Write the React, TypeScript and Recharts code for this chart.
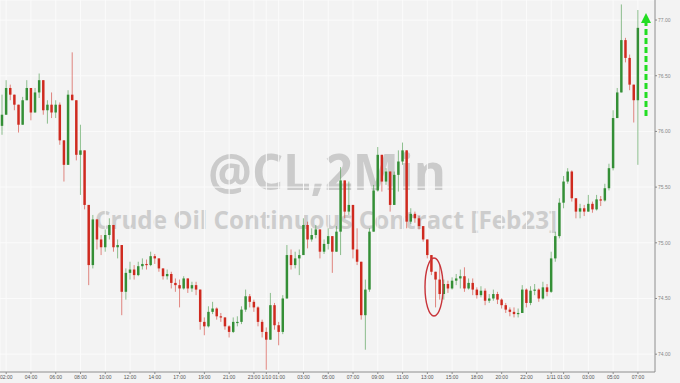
import { Bar, CartesianGrid, ComposedChart, XAxis, YAxis } from "recharts";

// @CL 2-min, roughly one candle per 20 minutes
const firstOpen = 76.05;

const closes = [
  76.15, 76.39, 76.33, 76.24, 76.06, 76.28, 76.39, 76.17, 76.35, 76.46,
  76.19, 76.24, 76.17, 76.24, 75.92, 75.7, 76.33, 76.28, 75.79, 75.83,
  75.34, 74.8, 75.21, 75.03, 74.96, 75.07, 75.16, 74.96, 74.98, 74.56,
  74.73, 74.76, 74.71, 74.79, 74.81, 74.8, 74.88, 74.86, 74.77, 74.7,
  74.72, 74.64, 74.62, 74.59, 74.68, 74.59, 74.62, 74.58, 74.29, 74.25,
  74.38, 74.41, 74.34, 74.33, 74.25, 74.2, 74.29, 74.29, 74.4, 74.52,
  74.47, 74.42, 74.29, 74.2, 74.13, 74.44, 74.26, 74.2, 74.5, 74.89,
  74.8, 74.86, 74.89, 75.16, 75.03, 75.07, 75.12, 74.92, 74.99, 75.06,
  74.92, 75.1, 75.56, 75.28, 75.34, 74.94, 74.83, 74.35, 74.58, 75.1,
  75.47, 75.79, 75.55, 75.64, 75.34, 75.61, 75.73, 75.83, 75.19, 75.26,
  75.22, 75.15, 75.03, 74.89, 74.74, 74.67, 74.54, 74.63, 74.59, 74.66,
  74.68, 74.7, 74.59, 74.64, 74.58, 74.53, 74.57, 74.48, 74.5, 74.54,
  74.49, 74.44, 74.4, 74.38, 74.36, 74.37, 74.58, 74.46, 74.57, 74.58,
  74.5, 74.6, 74.56, 74.86, 75.06, 75.36, 75.55, 75.64, 75.4, 75.28,
  75.31, 75.28, 75.35, 75.3, 75.39, 75.38, 75.49, 75.67, 76.12, 76.35,
  76.82, 76.66, 76.42, 76.28, 76.93,
];

const highs = [
  76.33, 76.46, 76.42, 76.33, 76.24, 76.31, 76.46, 76.39, 76.39, 76.52,
  76.46, 76.28, 76.35, 76.28, 76.26, 75.92, 76.37, 76.71, 76.28, 76.06,
  75.83, 75.34, 75.25, 75.21, 75.07, 75.12, 75.22, 75.16, 75.03, 74.98,
  74.77, 74.83, 74.8, 74.83, 74.86, 74.85, 74.92, 74.9, 74.86, 74.77,
  74.76, 74.74, 74.68, 74.67, 74.7, 74.68, 74.65, 74.65, 74.58, 74.33,
  74.43, 74.47, 74.42, 74.37, 74.33, 74.26, 74.33, 74.34, 74.43, 74.58,
  74.54, 74.49, 74.43, 74.31, 74.24, 74.55, 74.46, 74.29, 74.53, 74.98,
  74.94, 74.92, 74.94, 75.22, 75.19, 75.13, 75.16, 75.12, 75.03, 75.13,
  75.06, 75.15, 75.68, 75.56, 75.55, 75.34, 75.13, 74.83, 74.67, 75.13,
  75.52, 75.86, 75.79, 75.67, 75.64, 75.64, 75.83, 75.9, 75.83, 75.31,
  75.28, 75.24, 75.15, 75.03, 74.89, 74.74, 74.81, 74.67, 74.66, 74.69,
  74.72, 74.76, 74.78, 74.68, 74.68, 74.6, 74.61, 74.59, 74.54, 74.58,
  74.56, 74.5, 74.46, 74.42, 74.42, 74.41, 74.62, 74.59, 74.61, 74.63,
  74.59, 74.65, 74.63, 74.92, 75.1, 75.4, 75.6, 75.67, 75.65, 75.4,
  75.35, 75.34, 75.43, 75.37, 75.43, 75.42, 75.53, 75.71, 76.19, 76.39,
  77.14, 76.84, 76.69, 76.42, 77.09,
];

const lows = [
  75.97, 76.24, 76.28, 76.19, 75.99, 76.06, 76.28, 76.1, 76.17, 76.3,
  76.15, 76.07, 76.12, 76.12, 75.88, 75.55, 75.7, 76.28, 75.74, 75.43,
  75.3, 74.62, 74.77, 74.94, 74.89, 74.92, 75.03, 74.92, 74.86, 74.35,
  74.49, 74.67, 74.67, 74.7, 74.76, 74.76, 74.79, 74.81, 74.74, 74.67,
  74.67, 74.59, 74.56, 74.42, 74.58, 74.55, 74.56, 74.53, 74.22, 74.17,
  74.24, 74.36, 74.31, 74.29, 74.22, 74.15, 74.19, 74.25, 74.27, 74.38,
  74.42, 74.38, 74.25, 74.15, 73.86, 74.13, 74.22, 74.08, 74.18, 74.5,
  74.76, 74.77, 74.71, 74.89, 74.95, 75.01, 75.04, 74.86, 74.9, 74.94,
  74.73, 74.92, 74.89, 75.22, 75.25, 74.86, 74.8, 74.31, 74.04, 74.56,
  75.1, 75.46, 75.46, 75.52, 75.28, 75.34, 75.46, 75.7, 75.13, 75.17,
  75.18, 75.12, 75.01, 74.86, 74.71, 74.42, 74.49, 74.49, 74.55, 74.58,
  74.62, 74.59, 74.56, 74.58, 74.53, 74.5, 74.51, 74.44, 74.46, 74.48,
  74.45, 74.41, 74.37, 74.34, 74.33, 74.33, 74.37, 74.42, 74.44, 74.53,
  74.47, 74.49, 74.52, 74.55, 74.83, 75.04, 75.31, 75.53, 75.37, 75.22,
  75.22, 75.24, 75.28, 75.27, 75.29, 75.33, 75.37, 75.47, 75.65, 76.12,
  76.35, 76.62, 76.37, 76.08, 75.7,
];

const tickIdx = [1, 7, 13, 19, 25, 31, 37, 43, 49, 55, 61, 64, 67, 73, 79, 85, 91, 97, 103, 109, 115, 121, 127, 133, 136, 142, 148, 154];
const tickLabels = [
  "02:00", "04:00", "06:00", "08:00", "10:00", "12:00", "14:00", "17:00", "19:00", "21:00", "23:00", "1/10", "01:00",
  "03:00", "05:00", "07:00", "09:00", "11:00", "13:00", "15:00", "18:00", "20:00", "22:00", "1/11", "01:00", "03:00",
  "05:00", "07:00",
];
const priceTicks = [74, 74.5, 75, 75.5, 76, 76.5, 77];

const UP = "#348f36";
const DOWN = "#cf2a1f";
const BG = "#f3f3f3";

const candles = closes.map((close, i) => {
  const open = i === 0 ? firstOpen : closes[i - 1];
  const high = Math.max(highs[i], open, close);
  const low = Math.min(lows[i], open, close);
  return { i, open, close, high, low, range: [low, high] };
});

function Candle(props: any) {
  const { x, y, width, height, payload } = props;
  if (!payload || height == null) return null;
  const top = Math.min(y, y + height);
  const h = Math.abs(height);
  const span = payload.high - payload.low || 1;
  const yAt = (v: number) => top + ((payload.high - v) / span) * h;
  const cx = x + width / 2;
  const bw = Math.max(1.6, width * 0.62);
  const y1 = yAt(Math.max(payload.open, payload.close));
  const y2 = yAt(Math.min(payload.open, payload.close));
  const color = payload.close >= payload.open ? UP : DOWN;
  return (
    <g>
      <line x1={cx} x2={cx} y1={top} y2={top + h} stroke={color} strokeOpacity={0.55} strokeWidth={1} />
      <rect x={cx - bw / 2} y={y1} width={bw} height={Math.max(1.2, y2 - y1)} fill={color} />
    </g>
  );
}

export default function App() {
  return (
    <div style={{ position: "relative", width: 680, height: 383, background: BG, overflow: "hidden" }}>
      <style>{`body{margin:0}`}</style>
      <svg width={680} height={383} style={{ position: "absolute", left: 0, top: 0 }}>
        <text x={327} y={190} textAnchor="middle" fontFamily="'Open Sans', Arial, sans-serif" fontWeight={700} fontSize={50} fill="#cbcbcb" textLength={238} lengthAdjust="spacingAndGlyphs">
          @CL,2Min
        </text>
        <text x={326} y={229} textAnchor="middle" fontFamily="'Open Sans', Arial, sans-serif" fontWeight={700} fontSize={25} fill="#cdcdcd" textLength={462} lengthAdjust="spacingAndGlyphs">
          Crude Oil Continuous Contract [Feb23]
        </text>
      </svg>
      <div style={{ position: "absolute", left: 0, top: 0 }}>
        <ComposedChart width={680} height={383} data={candles} margin={{ top: 0, right: 0, bottom: 0, left: 0 }} barCategoryGap={0}>
          <CartesianGrid stroke="#fbfbfb" strokeWidth={1} />
          <XAxis
            dataKey="i"
            type="category"
            ticks={tickIdx}
            interval={0}
            height={11}
            padding={{ left: 0, right: 15 }}
            tickFormatter={(v: number) => tickLabels[tickIdx.indexOf(v)] ?? ""}
            tick={{ fontSize: 5, fill: "#555", fontFamily: "Arial, sans-serif" }}
            tickSize={2}
            tickMargin={1}
            stroke="#8a8a8a"
          />
          <YAxis
            orientation="right"
            domain={[73.84, 77.18]}
            ticks={priceTicks}
            width={25}
            tickFormatter={(v: number) => v.toFixed(2)}
            tick={{ fontSize: 5, fill: "#888", fontFamily: "Arial, sans-serif" }}
            tickSize={2}
            tickMargin={1}
            stroke="#8a8a8a"
            allowDataOverflow
          />
          <Bar dataKey="range" shape={<Candle />} isAnimationActive={false} />
        </ComposedChart>
      </div>
      <svg width={680} height={383} style={{ position: "absolute", left: 0, top: 0, pointerEvents: "none" }}>
        <ellipse cx={434} cy={287} rx={9} ry={29} fill="none" stroke="#c8343a" strokeWidth={1.4} />
        <line x1={646} y1={116} x2={646} y2={22} stroke="#22dd22" strokeWidth={3} strokeDasharray="6 3" />
        <polygon points="641,23 651,23 646,13" fill="#22dd22" />
      </svg>
    </div>
  );
}
